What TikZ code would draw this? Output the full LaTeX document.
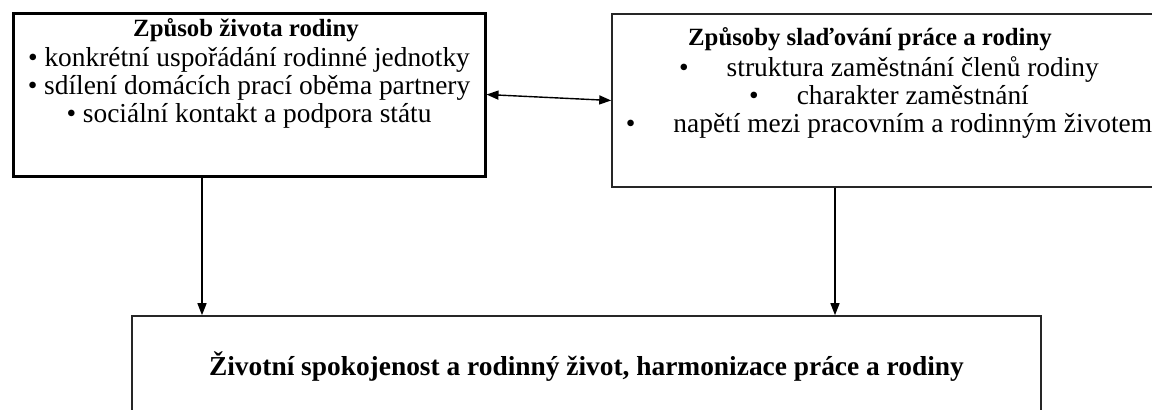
\documentclass[tikz,border=0pt]{standalone}
\usepackage{fontspec}
\setmainfont{Liberation Serif}
\usetikzlibrary{arrows.meta}

\newcommand{\lbul}{\textbullet\ }
\newcommand{\tbul}{\textbullet\hspace{19pt}}

\begin{document}
\begin{tikzpicture}[x=0.5pt,y=-0.5pt,
    every node/.style={font=\fontsize{13.7}{16}\selectfont},
    frame/.style={draw=black!85,line width=0.8pt,inner sep=0pt},
    head/.style={anchor=base,inner sep=0pt,font=\fontsize{12.4}{15}\selectfont\bfseries},
    item/.style={anchor=base,inner sep=0pt},
    arr/.style={-{Triangle[length=6pt,width=4.5pt]},line width=0.7pt},
    dbl/.style={{Triangle[length=6pt,width=4.5pt]}-{Triangle[length=6pt,width=4.5pt]},line width=0.7pt}]
    \useasboundingbox (0,0) rectangle (1152,409);
    \clip (0,0) rectangle (1152,409);
    % boxes
    \node[frame,draw=black,line width=1.5pt,minimum width=236pt,minimum height=81.5pt] (lbox) at (249,94.5) {};
    \node[frame,minimum width=274pt,minimum height=86.5pt] (rbox) at (886,100.5) {};
    \node[frame,minimum width=454.5pt,minimum height=57pt] (bbox) at (586.5,373) {};
    % left box text
    \node[head] (lt) at (246,36) {Způsob života rodiny};
    \node[item] (l1) at (249,66) {\lbul konkrétní uspořádání rodinné jednotky};
    \node[item] (l2) at (249,94) {\lbul sdílení domácích prací oběma partnery};
    \node[item] (l3) at (249,122) {\lbul sociální kontakt a podpora státu};
    % right box text
    \node[head] (rt) at (870,45) {Způsoby slaďování práce a rodiny};
    \node[item] (r1) at (889,76) {\tbul struktura zaměstnání členů rodiny};
    \node[item] (r2) at (889,104) {\tbul charakter zaměstnání};
    \node[item] (r3) at (889,132) {\tbul napětí mezi pracovním a rodinným životem};
    % bottom box text
    \node[item,font=\fontsize{13.7}{16}\selectfont\bfseries] (bt) at (586.5,375) {Životní spokojenost a rodinný život, harmonizace práce a rodiny};
    % connectors
    \draw[dbl] (lbox.east) -- (rbox.west);
    \draw[arr] ([xshift=-23.5pt]lbox.south) -- ([xshift=-23.5pt]lbox.south |- bbox.north);
    \draw[arr] ([xshift=-25.5pt]rbox.south) -- ([xshift=-25.5pt]rbox.south |- bbox.north);
\end{tikzpicture}
\end{document}
